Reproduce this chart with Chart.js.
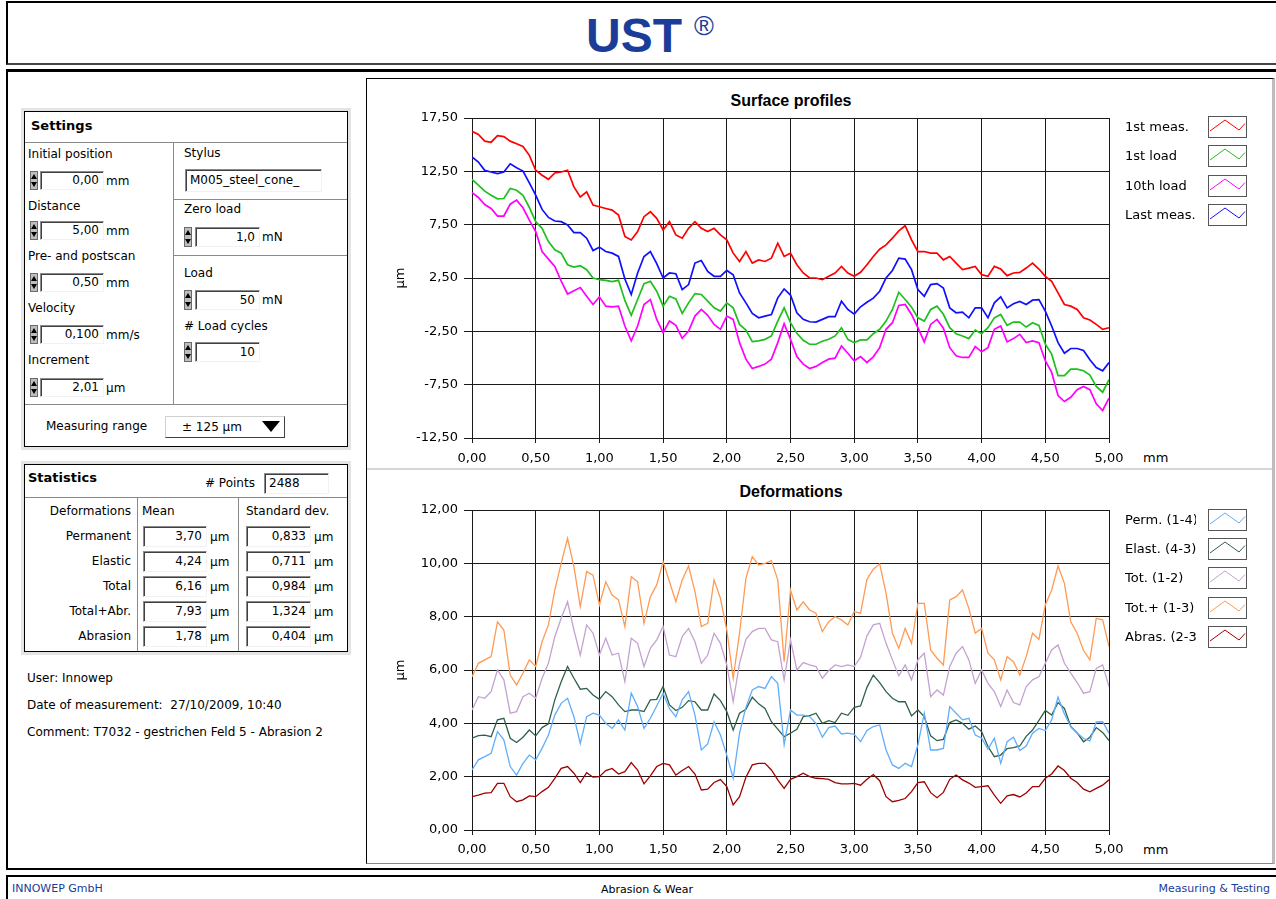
<!DOCTYPE html>
<html>
<head>
<meta charset="utf-8">
<title>UST – Surface profiles / Deformations</title>
<script src="https://cdn.jsdelivr.net/npm/chart.js@4.4.1/dist/chart.umd.min.js"></script>
<style>
  body { margin:0; width:1276px; height:899px; overflow:hidden; background:#fff; position:relative;
         font-family:"DejaVu Sans", sans-serif; font-size:12px; color:#000; }
  .abs { position:absolute; white-space:pre; line-height:16px; }
  .frame { position:absolute; box-sizing:border-box; }
  .box { position:absolute; box-sizing:border-box; background:#fff; border:1px solid #000; box-shadow:0 0 0 3px #e4e4e4; }
  .hl { position:absolute; height:1px; background:#8a8a8a; }
  .vl { position:absolute; width:1px; background:#8a8a8a; }
  .field { position:absolute; box-sizing:border-box; background:#fff; border:1px solid; border-color:#8a8a8a #f2f2f2 #f2f2f2 #8a8a8a;
           box-shadow: inset 1px 1px 0 #404040; padding:0 4px; white-space:nowrap; overflow:hidden; }
  .spin { position:absolute; width:8px; box-sizing:border-box; background:#bdbdbd; border:1px solid #6a6a6a; }
  .spin:before, .spin:after { content:''; position:absolute; left:0; border-left:3px solid transparent; border-right:3px solid transparent; }
  .spin:before { top:2px; border-bottom:5px solid #000; }
  .spin:after { bottom:2px; border-top:5px solid #000; }
  .lgbox { position:absolute; width:39px; height:22px; box-sizing:border-box; border:1px solid #555; background:#fff; }
  canvas { position:absolute; }
</style>
</head>
<body>

<!-- Kopf -->
<div class="frame" style="left:6px;top:1px;width:1290px;height:64px;border:2px solid #000;border-right:none;border-bottom-color:#444;"></div>
<div class="abs" style="left:0;width:1300px;top:11px;text-align:center;line-height:50px;color:#1b3c98;font-family:'Liberation Sans',sans-serif;font-weight:bold;font-size:48px;">UST<span style="font-size:27px;font-weight:normal;vertical-align:top;position:relative;top:-10px;margin-left:12px;">®</span></div>

<!-- Hauptrahmen -->
<div class="frame" style="left:6px;top:69px;width:1290px;height:801px;border-top:3px solid #000;border-left:2px solid #000;border-bottom:2px solid #000;"></div>

<!-- Diagrammfeld -->
<div class="frame" style="left:366px;top:78px;width:909px;height:786px;border-left:1px solid #000;border-top:1px solid #000;border-right:3px solid #bdbdbd;border-bottom:1px solid #888;"></div>
<div class="frame" style="left:367px;top:468px;width:905px;height:2px;background:#d6d6d6;"></div>

<div class="abs" style="left:472px;width:638px;top:93px;text-align:center;font-family:'Liberation Sans',sans-serif;font-weight:bold;font-size:16px;">Surface profiles</div>
<div class="abs" style="left:472px;width:638px;top:484px;text-align:center;font-family:'Liberation Sans',sans-serif;font-weight:bold;font-size:16px;">Deformations</div>
<div class="abs" style="left:1143px;top:450px;font-size:13px;">mm</div>
<div class="abs" style="left:1143px;top:842px;font-size:13px;">mm</div>

<canvas id="profileChart" width="906" height="388" style="left:367px;top:80px;"></canvas>
<canvas id="deformChart" width="906" height="392" style="left:367px;top:470px;"></canvas>

<!-- Fuß -->
<div class="frame" style="left:6px;top:875px;width:1290px;height:30px;border-top:2px solid #000;border-left:2px solid #000;"></div>
<div class="abs" style="left:12px;top:881px;font-size:11px;color:#1b3c98;">INNOWEP GmbH</div>
<div class="abs" style="left:547px;width:200px;top:882px;font-size:11px;text-align:center;">Abrasion &amp; Wear</div>
<div class="abs" style="right:6px;top:881px;font-size:11px;color:#1b3c98;">Measuring &amp; Testing</div>

<script>
// Messpunkte (mm)
const positions = [0,0.05,0.1,0.15,0.2,0.25,0.3,0.35,0.4,0.45,0.5,0.55,0.6,0.65,0.7,0.75,0.8,0.85,0.9,0.95,
    1,1.05,1.1,1.15,1.2,1.25,1.3,1.35,1.4,1.45,1.5,1.55,1.6,1.65,1.7,1.75,1.8,1.85,1.9,1.95,
    2,2.05,2.1,2.15,2.2,2.25,2.3,2.35,2.4,2.45,2.5,2.55,2.6,2.65,2.7,2.75,2.8,2.85,2.9,2.95,
    3,3.05,3.1,3.15,3.2,3.25,3.3,3.35,3.4,3.45,3.5,3.55,3.6,3.65,3.7,3.75,3.8,3.85,3.9,3.95,
    4,4.05,4.1,4.15,4.2,4.25,4.3,4.35,4.4,4.45,4.5,4.55,4.6,4.65,4.7,4.75,4.8,4.85,4.9,4.95,5];

// Oberflächenprofile (µm)
const firstMeas = [16.26,15.95,15.33,15.23,15.85,15.76,15.33,15.08,14.83,14.0,12.6,12.13,11.75,12.35,12.44,12.6,11.04,10.1,10.57,9.33,9.18,9.02,8.87,8.4,6.4,
    6.07,6.85,8.25,8.71,8.09,7.0,7.78,6.54,6.23,7.16,7.78,7.16,6.85,7.16,6.54,6.07,4.83,4.05,4.98,3.9,4.2,4.05,4.36,5.76,4.52,
    4.83,3.74,2.97,2.5,2.5,2.34,2.66,2.97,3.59,2.97,2.66,3.03,3.74,4.52,5.2,5.61,6.23,6.91,7.4,6.07,4.98,4.98,4.83,4.83,4.2,
    4.52,3.9,3.28,3.43,3.59,2.81,2.66,3.59,3.34,2.72,2.97,3.03,3.43,3.9,3.34,2.66,2.19,1.1,0.02,-0.14,-0.45,-1.23,-1.44,-1.85,-2.31,-2.16];
const firstLoad = [11.75,11.2,10.64,10.26,9.92,9.95,10.89,10.73,10.26,9.11,7.78,7.16,5.92,5.14,4.83,3.74,3.52,3.65,3.28,2.5,2.34,2.28,2.16,2.28,0.4,
    -1.0,0.48,1.97,2.19,1.26,-0.14,0.79,0.54,-0.82,0.17,1.04,0.95,0.33,-0.3,-0.6,0.17,-0.3,-1.85,-2.38,-3.46,-3.4,-3.25,-2.93,-1.54,-0.3,
    -1.69,-2.69,-3.34,-3.71,-3.71,-3.43,-3.25,-2.93,-2.16,-3.25,-3.56,-3.31,-3.31,-2.72,-2.31,-1.54,-0.45,1.16,0.48,-0.23,-1.23,-1.54,-0.45,-0.14,-0.9,
    -2.16,-2.72,-2.93,-3.18,-2.38,-2.72,-2.16,-1.23,-0.92,-1.94,-1.63,-1.63,-2.1,-1.69,-1.94,-3.71,-4.64,-6.66,-6.66,-6.04,-6.04,-6.2,-6.6,-7.66,-8.21,-7.03];
const tenthLoad = [10.51,10.05,9.39,9.02,8.31,8.31,9.42,9.8,9.08,7.93,6.85,4.98,4.27,3.59,2.2,1.0,1.3,1.6,0.79,0.02,0.73,-0.14,-0.2,-0.14,-2.0,
    -3.4,-2.0,0.02,0.48,-1.38,-2.62,-1.54,-1.94,-3.15,-2.47,-1.07,-0.45,-1.0,-1.85,-2.31,-1.07,-1.38,-3.56,-5.11,-5.98,-5.79,-5.57,-5.11,-3.56,-1.79,
    -3.25,-4.86,-5.57,-5.98,-5.79,-5.42,-5.11,-5.02,-3.87,-4.55,-5.26,-4.86,-5.42,-4.89,-4.03,-2.31,-1.69,-0.08,0.02,-0.92,-2.16,-3.49,-1.85,-1.38,-2.2,
    -4.03,-4.8,-4.95,-4.95,-3.93,-4.42,-4.03,-2.31,-2.0,-3.49,-3.18,-2.78,-3.56,-3.4,-3.56,-5.26,-6.35,-8.52,-9.08,-8.68,-7.97,-7.66,-7.97,-9.3,-9.92,-8.77];
const lastMeas = [13.84,13.37,12.59,12.44,12.28,12.44,13.21,12.84,12.53,11.41,10.26,8.93,8.18,7.84,7.78,7.47,6.75,6.75,6.23,5.08,5.39,4.98,4.83,4.52,2.4,
    0.95,2.97,4.52,4.98,3.84,2.5,2.97,2.9,1.41,1.88,3.9,4.14,3.12,2.66,2.66,3.21,2.81,1.1,0.17,-0.82,-1.23,-1.07,-0.92,0.64,1.47,
    0.9,-0.76,-1.38,-1.6,-1.63,-1.38,-1.13,-1.13,0.33,-0.45,-0.89,-0.2,0.23,0.61,1.26,2.5,3.21,4.36,4.27,3.28,1.41,0.79,1.88,1.97,1.57,
    -0.3,-0.76,-0.7,-1.23,-0.3,-0.3,-1.23,0.17,0.73,-0.3,0.08,0.3,0.02,0.42,0.48,-0.6,-2.0,-3.56,-4.55,-4.11,-4.11,-4.3,-5.17,-5.89,-6.2,-5.42];

// Deformationen (µm)
const permDef = [2.25,2.63,2.75,2.88,3.69,3.38,2.38,2.06,2.5,2.81,2.63,3.06,3.56,4.31,4.75,4.94,4.25,3.25,4.25,4.38,4.31,4.0,3.81,4.13,3.75,
    5.13,4.63,3.81,4.19,4.65,5.13,4.55,4.25,4.88,5.19,4.31,3.0,3.23,4.06,3.56,2.81,1.94,3.63,4.6,5.25,5.38,5.31,5.75,5.5,3.2,
    4.5,4.31,4.31,4.25,4.0,3.48,3.84,3.9,3.6,3.63,3.59,3.31,3.73,3.88,3.94,3.0,2.44,2.31,2.5,2.38,3.19,4.38,3.0,3.0,3.06,
    4.63,4.38,4.13,4.19,3.56,3.45,3.03,3.44,2.5,3.31,3.48,2.98,3.15,3.63,3.81,3.73,4.13,4.98,4.35,3.88,3.64,3.43,3.34,4.05,4.06,3.63];
const elastDef = [3.44,3.54,3.56,3.5,4.13,4.19,3.44,3.28,3.48,3.75,3.53,3.84,3.98,4.88,5.56,6.13,5.69,5.28,5.31,5.06,4.9,5.19,5.0,4.69,4.44,
    4.5,4.5,4.44,4.88,4.9,5.38,4.69,4.48,4.6,4.85,4.81,4.5,4.5,5.1,4.85,4.44,3.75,4.38,4.53,4.98,4.73,4.56,4.06,3.78,3.5,
    3.63,3.78,4.25,4.29,4.38,4.0,4.1,4.03,4.38,4.3,4.6,4.65,5.35,5.81,5.53,5.19,4.94,4.81,4.81,4.28,4.5,4.25,3.53,3.35,3.4,
    4.03,4.13,4.0,3.78,3.9,3.69,3.13,2.75,2.81,3.05,3.09,3.15,3.51,3.75,4.11,4.48,4.31,4.78,4.56,3.88,3.64,3.31,3.48,3.84,3.66,3.35];
const totalDef = [4.5,5.0,4.94,5.19,6.0,5.63,4.38,4.44,5.0,5.13,4.94,5.69,6.25,7.25,7.94,8.56,7.5,6.56,7.69,7.38,6.56,7.19,6.56,6.63,5.56,
    7.19,7.0,6.13,6.81,7.13,7.63,6.56,6.5,7.25,7.56,7.06,6.25,6.56,7.38,7.0,6.19,4.81,6.25,7.15,7.44,7.56,7.56,7.13,7.06,5.63,
    7.13,6.0,6.28,6.19,6.13,5.69,5.98,6.19,6.13,6.19,6.13,6.48,7.28,7.69,7.75,7.0,6.38,5.78,6.19,5.63,6.38,6.63,5.0,5.25,5.06,
    6.13,6.63,6.88,6.38,5.5,6.0,5.5,5.19,4.63,5.25,4.78,4.69,5.38,5.63,5.75,6.25,6.75,6.94,6.25,5.88,5.53,5.13,5.19,6.06,6.19,5.38];
const totalAbrDef = [5.75,6.25,6.38,6.5,7.81,7.5,5.81,5.44,5.88,6.38,6.13,7.06,7.69,9.0,10.0,10.94,9.88,8.38,9.69,9.56,8.44,9.31,8.81,8.63,7.63,
    9.5,9.31,7.75,8.75,9.19,10.06,9.31,8.56,9.38,9.9,8.94,7.63,7.75,9.38,8.69,7.5,5.69,7.38,9.44,10.25,9.94,10.0,10.1,9.38,6.31,
    9.0,8.25,8.56,8.25,8.13,7.44,7.81,8.0,7.88,7.69,8.19,8.13,9.4,9.78,9.98,8.88,7.38,6.81,7.56,7.0,8.5,8.5,6.75,6.44,6.19,
    8.63,8.75,9.0,8.31,7.38,7.56,6.63,6.38,5.63,6.5,6.31,5.81,6.5,7.38,7.15,8.44,9.0,9.9,9.25,7.81,7.38,6.73,6.38,7.94,7.88,6.88];
const abrasionDef = [1.25,1.31,1.38,1.4,1.75,1.75,1.25,1.06,1.13,1.28,1.25,1.44,1.6,1.94,2.31,2.38,2.13,1.78,2.15,1.98,2.0,2.23,2.31,2.1,2.19,
    2.53,2.25,1.73,2.03,2.38,2.5,2.44,2.06,2.23,2.38,2.1,1.5,1.53,1.78,1.89,1.63,0.94,1.25,1.98,2.44,2.5,2.5,2.25,1.88,1.56,
    1.9,2.0,2.13,2.0,1.94,1.93,1.9,1.78,1.73,1.73,1.75,1.68,1.9,2.08,1.85,1.25,1.06,1.11,1.18,1.44,1.78,1.81,1.4,1.21,1.41,
    1.9,2.06,1.88,1.76,1.6,1.63,1.66,1.31,1.0,1.28,1.33,1.24,1.39,1.63,1.63,1.94,2.1,2.4,2.23,1.94,1.78,1.53,1.43,1.56,1.68,1.88];

const profileLabels = ['1st meas.', '1st load', '10th load', 'Last meas.'];
const profileColors = ['#ff0000', '#1fbf1f', '#ff00ff', '#1010ff'];
const deformLabels = ['Perm. (1-4)', 'Elast. (4-3)', 'Tot. (1-2)', 'Tot.+ (1-3)', 'Abras. (2-3)'];
const deformColors = ['#5eaefc', '#2f6048', '#c4a2d0', '#ff9a55', '#a00000'];

// ---------- Hilfsfunktionen für das Formular ----------
function text(s, x, cy, opts = {}) {
    const d = document.createElement('div');
    d.className = 'abs';
    d.textContent = s;
    d.style.top = (cy - 8) + 'px';
    if (opts.right !== undefined) d.style.right = (1276 - opts.right) + 'px';
    else d.style.left = x + 'px';
    if (opts.bold) d.style.fontWeight = 'bold';
    if (opts.size) d.style.fontSize = opts.size + 'px';
    document.body.appendChild(d);
    return d;
}
function field(s, x, y, w, h, align = 'right') {
    const d = document.createElement('div');
    d.className = 'field';
    Object.assign(d.style, { left: x + 'px', top: y + 'px', width: w + 'px', height: h + 'px',
        lineHeight: (h - 2) + 'px', textAlign: align });
    d.textContent = s;
    document.body.appendChild(d);
}
function spin(x, y, h) {
    const d = document.createElement('div');
    d.className = 'spin';
    Object.assign(d.style, { left: x + 'px', top: y + 'px', height: h + 'px' });
    document.body.appendChild(d);
}
function hline(x1, x2, y) {
    const d = document.createElement('div');
    d.className = 'hl';
    Object.assign(d.style, { left: x1 + 'px', top: y + 'px', width: (x2 - x1) + 'px' });
    document.body.appendChild(d);
}
function vline(x, y1, y2) {
    const d = document.createElement('div');
    d.className = 'vl';
    Object.assign(d.style, { left: x + 'px', top: y1 + 'px', height: (y2 - y1) + 'px' });
    document.body.appendChild(d);
}
function box(x, y, w, h) {
    const d = document.createElement('div');
    d.className = 'box';
    Object.assign(d.style, { left: x + 'px', top: y + 'px', width: w + 'px', height: h + 'px' });
    document.body.appendChild(d);
}

// ---------- Settings ----------
box(24, 111, 324, 336);
text('Settings', 31, 126, { bold: true, size: 13 });
hline(25, 347, 142);
vline(173, 142, 404);
hline(173, 347, 199);
hline(173, 347, 255);
hline(25, 347, 404);

const leftRows = [
    ['Initial position', 154, '0,00', 'mm', 171],
    ['Distance', 206, '5,00', 'mm', 221],
    ['Pre- and postscan', 256, '0,50', 'mm', 273],
    ['Velocity', 308, '0,100', 'mm/s', 325],
    ['Increment', 360, '2,01', 'µm', 378]
];
leftRows.forEach(([lab, cy, val, unit, fy]) => {
    text(lab, 28, cy);
    spin(30, fy, 19);
    field(val, 40, fy, 64, 19);
    text(unit, 106, fy + 10);
});

text('Stylus', 184, 153);
field('M005_steel_cone_', 185, 169, 137, 23, 'left');
text('Zero load', 184, 209);
spin(184, 227, 20);
field('1,0', 195, 227, 65, 20);
text('mN', 262, 237);
text('Load', 184, 273);
spin(184, 290, 20);
field('50', 195, 290, 65, 20);
text('mN', 262, 300);
text('# Load cycles', 184, 326);
spin(184, 342, 20);
field('10', 195, 342, 65, 20);

text('Measuring range', 46, 426);
const dd = document.createElement('div');
dd.className = 'frame';
Object.assign(dd.style, { left: '165px', top: '416px', width: '120px', height: '22px', background: '#fff',
    border: '1px solid', borderColor: '#d0d0d0 #404040 #404040 #d0d0d0' });
document.body.appendChild(dd);
text('± 125 µm', 182, 427);
const tri = document.createElement('div');
Object.assign(tri.style, { position: 'absolute', left: '262px', top: '421px', width: 0, height: 0,
    borderLeft: '9px solid transparent', borderRight: '9px solid transparent', borderTop: '11px solid #000' });
document.body.appendChild(tri);

// ---------- Statistics ----------
box(24, 464, 324, 188);
text('Statistics', 28, 478, { bold: true, size: 13 });
text('# Points', 205, 483);
field('2488', 264, 473, 65, 21, 'left');
hline(25, 347, 497);
vline(137, 497, 651);
vline(238, 497, 651);
text('Deformations', 0, 511, { right: 131 });
text('Mean', 142, 511);
text('Standard dev.', 246, 511);

const statNames = ['Permanent', 'Elastic', 'Total', 'Total+Abr.', 'Abrasion'];
const statMean = ['3,70', '4,24', '6,16', '7,93', '1,78'];
const statStd = ['0,833', '0,711', '0,984', '1,324', '0,404'];
statNames.forEach((n, i) => {
    const cy = 536 + i * 25;
    text(n, 0, cy, { right: 131 });
    field(statMean[i], 143, cy - 10, 64, 21);
    text('µm', 210, cy + 1);
    field(statStd[i], 246, cy - 10, 65, 21);
    text('µm', 314, cy + 1);
});

text('User: Innowep', 27, 678);
text('Date of measurement:  27/10/2009, 10:40', 27, 705);
text('Comment: T7032 - gestrichen Feld 5 - Abrasion 2', 27, 732);

// ---------- Legenden ----------
function legend(labels, colors, top, step, clipW) {
    labels.forEach((lab, i) => {
        const cy = top + i * step;
        const t = text(lab, 1125, cy, { size: 13 });
        if (clipW) { t.style.width = clipW + 'px'; t.style.overflow = 'hidden'; }
        const b = document.createElement('div');
        b.className = 'lgbox';
        b.style.left = '1208px';
        b.style.top = (cy - 11) + 'px';
        b.innerHTML = '<svg width="37" height="20" style="position:absolute;left:0;top:0">' +
            '<polyline points="1,14 16,3 30,13 36,6.5" fill="none" stroke="' + colors[i] + '" stroke-width="1"/></svg>';
        document.body.appendChild(b);
    });
}
legend(profileLabels, profileColors, 127, 29.3);
legend(deformLabels, deformColors, 520, 29.2, 71);

// ---------- Diagramme ----------
function fmt(v) { return Number(v).toFixed(2).replace('.', ','); }
function pts(arr) { return arr.map((v, i) => ({ x: positions[i], y: v })); }

Chart.defaults.font.family = '"DejaVu Sans", sans-serif';
Chart.defaults.font.size = 13;
Chart.defaults.color = '#000';

function makeChart(id, series, labels, colors, yMin, yMax, yStep, padTop, xHeight, xPad, lineW) {
    const gridColor = '#1a1a1a';
    return new Chart(document.getElementById(id), {
        type: 'line',
        data: {
            datasets: series.map((s, i) => ({
                label: labels[i],
                data: pts(s),
                borderColor: colors[i],
                borderWidth: lineW,
                pointRadius: 0,
                tension: 0,
                fill: false
            }))
        },
        options: {
            responsive: false,
            animation: false,
            events: [],
            layout: { padding: { top: padTop, right: 164, bottom: 0, left: 0 } },
            plugins: { legend: { display: false }, title: { display: false }, tooltip: { enabled: false } },
            scales: {
                x: {
                    type: 'linear', min: 0, max: 5,
                    ticks: { stepSize: 0.5, callback: fmt, maxRotation: 0, autoSkip: false, padding: xPad },
                    grid: { color: gridColor, lineWidth: 1, tickLength: 5 },
                    border: { color: gridColor },
                    afterFit: s => { s.height = xHeight; }
                },
                y: {
                    type: 'linear', min: yMin, max: yMax,
                    ticks: { stepSize: yStep, callback: fmt, padding: 6 },
                    grid: { color: gridColor, lineWidth: 1, tickLength: 8 },
                    border: { color: gridColor },
                    title: { display: true, text: 'µm', padding: { top: 26, bottom: 0 } },
                    afterFit: s => { s.width = 105; }
                }
            }
        }
    });
}

makeChart('profileChart', [firstMeas, firstLoad, tenthLoad, lastMeas], profileLabels, profileColors,
    -12.5, 17.5, 5, 38, 30, 8, 1.7);
makeChart('deformChart', [permDef, elastDef, totalDef, totalAbrDef, abrasionDef], deformLabels, deformColors,
    0, 12, 2, 40, 32, 7, 1.3);
</script>
</body>
</html>
